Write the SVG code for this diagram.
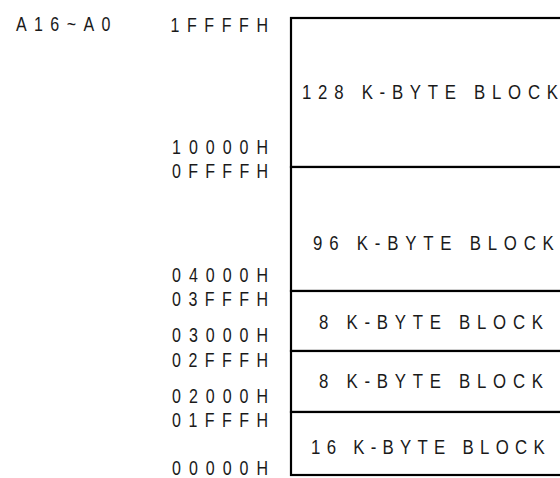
<svg xmlns="http://www.w3.org/2000/svg" width="560" height="478" viewBox="0 0 560 478">
<style>
text{font-family:"Liberation Sans",Arial,sans-serif;font-size:20px;fill:#1a1a1a;}
.addr{text-anchor:end;}
.blk{font-size:21px;}
.box{fill:#fff;stroke:#000;stroke-width:2.2;}
</style>
<rect width="560" height="478" fill="#fff"/>
<g id="bus-label"><text transform="translate(16,31) scale(0.8,1)" textLength="118" lengthAdjust="spacing">A16~A0</text></g>
<g id="addresses">
<text class="addr" transform="translate(268,32) scale(0.8,1)" textLength="122" lengthAdjust="spacing">1FFFFH</text>
<text class="addr" transform="translate(268,154) scale(0.8,1)" textLength="120" lengthAdjust="spacing">10000H</text>
<text class="addr" transform="translate(268,178) scale(0.8,1)" textLength="120" lengthAdjust="spacing">0FFFFH</text>
<text class="addr" transform="translate(268,282) scale(0.8,1)" textLength="120" lengthAdjust="spacing">04000H</text>
<text class="addr" transform="translate(268,306) scale(0.8,1)" textLength="120" lengthAdjust="spacing">03FFFH</text>
<text class="addr" transform="translate(268,342) scale(0.8,1)" textLength="120" lengthAdjust="spacing">03000H</text>
<text class="addr" transform="translate(268,367) scale(0.8,1)" textLength="120" lengthAdjust="spacing">02FFFH</text>
<text class="addr" transform="translate(268,403) scale(0.8,1)" textLength="120" lengthAdjust="spacing">02000H</text>
<text class="addr" transform="translate(268,427) scale(0.8,1)" textLength="120" lengthAdjust="spacing">01FFFH</text>
<text class="addr" transform="translate(268,475) scale(0.8,1)" textLength="120" lengthAdjust="spacing">00000H</text>
</g>
<g id="block-128k"><rect class="box" x="291" y="18" width="280" height="149"/><text class="blk" transform="translate(302,99) scale(0.8,1)" textLength="320" lengthAdjust="spacing">128 K-BYTE BLOCK</text></g>
<g id="block-96k"><rect class="box" x="291" y="167" width="280" height="124"/><text class="blk" transform="translate(313,250) scale(0.8,1)" textLength="301" lengthAdjust="spacing">96 K-BYTE BLOCK</text></g>
<g id="block-8k-a"><rect class="box" x="291" y="291" width="280" height="60"/><text class="blk" transform="translate(319,329) scale(0.8,1)" textLength="280" lengthAdjust="spacing">8 K-BYTE BLOCK</text></g>
<g id="block-8k-b"><rect class="box" x="291" y="351" width="280" height="61"/><text class="blk" transform="translate(319,388) scale(0.8,1)" textLength="280" lengthAdjust="spacing">8 K-BYTE BLOCK</text></g>
<g id="block-16k"><rect class="box" x="291" y="412" width="280" height="63"/><text class="blk" transform="translate(311,454) scale(0.8,1)" textLength="292" lengthAdjust="spacing">16 K-BYTE BLOCK</text></g>
<g id="connectors"></g>
</svg>
